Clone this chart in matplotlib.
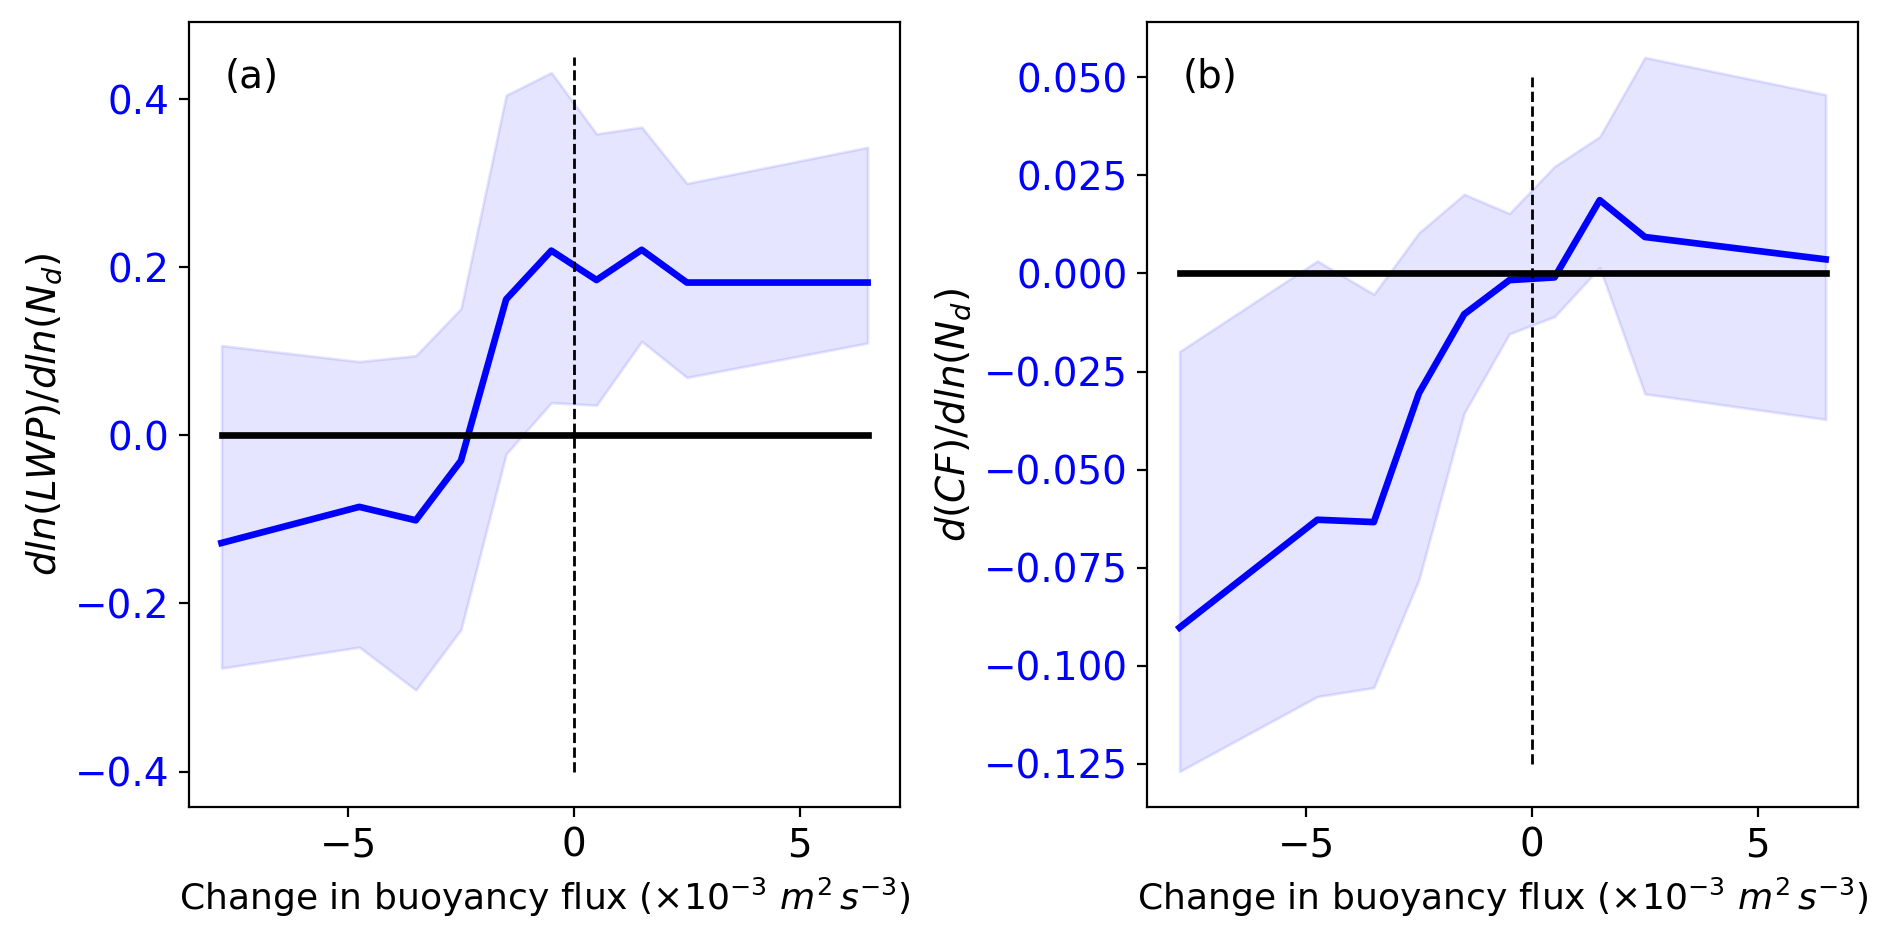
import numpy as np
import matplotlib
matplotlib.use('Agg')
import matplotlib.pyplot as plt

# buoyancy flux bins (x 10^-3 m2 s-3)
flux = [-7.8, -4.75, -3.5, -2.5, -1.5, -0.5, 0.5, 1.5, 2.5, 6.5]

# (a) dln(LWP)/dln(Nd)
lwp_mean = [-0.128, -0.085, -0.101, -0.030, 0.162, 0.220, 0.185, 0.221, 0.182, 0.182]
lwp_low = [-0.277, -0.252, -0.303, -0.231, -0.022, 0.039, 0.036, 0.112, 0.069, 0.110]
lwp_high = [0.107, 0.088, 0.095, 0.151, 0.405, 0.432, 0.359, 0.367, 0.300, 0.343]

# (b) d(CF)/dln(Nd)
cf_mean = [-0.0903, -0.0628, -0.0634, -0.0305, -0.0104, -0.0017, -0.0010, 0.0187, 0.0093, 0.0036]
cf_low = [-0.1270, -0.1079, -0.1056, -0.0780, -0.0356, -0.0154, -0.0110, 0.0015, -0.0307, -0.0372]
cf_high = [-0.0199, 0.0032, -0.0053, 0.0104, 0.0202, 0.0153, 0.0273, 0.0349, 0.0551, 0.0456]

plt.rcParams['font.size'] = 14

fig, axs = plt.subplots(1, 2, figsize=(9.46, 4.715), dpi=200)
plt.subplots_adjust(left=0.100, right=0.982, bottom=0.144, top=0.977, wspace=0.348)

panels = [
	(axs[0], lwp_mean, lwp_low, lwp_high, (-0.4, 0.45), '$dln(LWP)/dln(N_d)$', '(a)'),
	(axs[1], cf_mean, cf_low, cf_high, (-0.125, 0.05), '$d(CF)/dln(N_d)$', '(b)'),
]

for ax, mean, low, high, vl, ylab, tag in panels:
	ax.fill_between(flux, low, high, color='blue', alpha=0.1)
	ax.plot(flux, mean, color='blue', lw=2.4)
	ax.plot([flux[0], flux[-1]], [0, 0], color='k', lw=2.4)
	ax.vlines(0, vl[0], vl[1], colors='k', linestyles='--', lw=1)
	ax.set_ylabel(ylab, fontsize=14)
	ax.set_xlabel('Change in buoyancy flux ($\\times10^{-3}\\ m^2\\,s^{-3}$)', fontsize=13)
	ax.tick_params(axis='y', labelcolor='blue')
	ax.text(0.05, 0.915, tag, transform=ax.transAxes)

plt.savefig('out.png')
